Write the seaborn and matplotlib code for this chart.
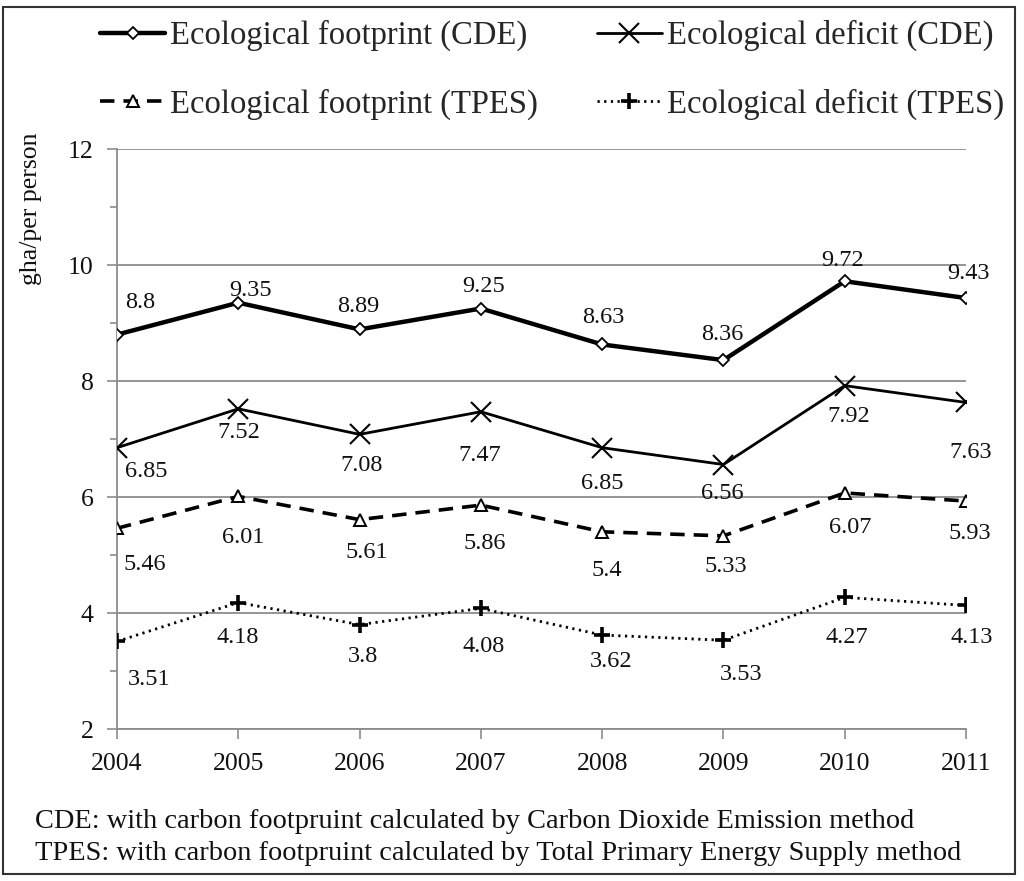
import matplotlib
matplotlib.use("Agg")
import matplotlib.pyplot as plt
import seaborn as sns
import pandas as pd
from matplotlib.patches import Rectangle
from matplotlib.ticker import MultipleLocator

years = ["2004", "2005", "2006", "2007", "2008", "2009", "2010", "2011"]
ef_cde = [8.8, 9.35, 8.89, 9.25, 8.63, 8.36, 9.72, 9.43]
ed_cde = [6.85, 7.52, 7.08, 7.47, 6.85, 6.56, 7.92, 7.63]
ef_tpes = [5.46, 6.01, 5.61, 5.86, 5.4, 5.33, 6.07, 5.93]
ed_tpes = [3.51, 4.18, 3.8, 4.08, 3.62, 3.53, 4.27, 4.13]
series_names = ["Ecological footprint (CDE)", "Ecological deficit (CDE)",
                "Ecological footprint (TPES)", "Ecological deficit (TPES)"]

sns.set_theme(style="white")
plt.rcParams["font.family"] = ["Liberation Serif", "DejaVu Serif"]

fig = plt.figure(figsize=(10.24, 8.81), dpi=100)
ax = fig.add_axes([117/1024, 1-729/881, (966-117)/1024, (729-149)/881])

xs = list(range(len(years)))
all_series = [ef_cde, ed_cde, ef_tpes, ed_tpes]
styles = [
    dict(color="black", lw=3.2, ls="-", marker="D", ms=6, mfc="white", mec="black", mew=1.3),
    dict(color="black", lw=2.0, ls="-", marker="x", ms=14, mfc="black", mec="black", mew=1.5),
    dict(color="black", lw=2.6, ls=(0, (4, 2.5)), marker="^", ms=8, mfc="white", mec="black", mew=1.4),
    dict(color="black", lw=2.0, ls=(0, (0.8, 1.6)), marker="+", ms=12, mfc="black", mec="black", mew=2.6),
]

# label offsets in pixels (dx, dy up) from point to visible text centre
offsets = [
    [(23, 35), (12, 15), (-1, 26), (3, 25), (1, 30), (-1, 29), (-2, 24), (2, 28)],
    [(29, -21), (1, -21), (2, -28), (-1, -41), (0, -33), (-1, -26), (4, -28), (5, -47)],
    [(28, -33), (5, -38), (7, -30), (4, -35), (5, -36), (2, -28), (6, -32), (4, -29)],
    [(32, -35), (-1, -32), (3, -29), (3, -35), (9, -23), (18, -31), (2, -37), (6, -29)],
]
half_digit = 8.5

for vals, name, st in zip(all_series, series_names, styles):
    df = pd.DataFrame({"x": xs, "y": vals})
    sns.lineplot(data=df, x="x", y="y", ax=ax, label=name,
                 color=st["color"], linewidth=st["lw"], linestyle=st["ls"],
                 marker=st["marker"], markersize=st["ms"], markerfacecolor=st["mfc"],
                 markeredgecolor=st["mec"], markeredgewidth=st["mew"], zorder=3)

for vals, offs in zip(all_series, offsets):
    for x, v, (dx, dy) in zip(xs, vals, offs):
        ax.annotate(f"{v:g}", (x, v), xytext=(dx, dy - half_digit), textcoords="offset pixels",
                    ha="center", va="baseline", fontsize=17.5, color="#111111", zorder=4)

ax.set_xlim(0, len(years) - 1)
ax.set_ylim(2, 12)
ax.set_xticks(xs)
ax.set_xticklabels(years)
ax.yaxis.set_major_locator(MultipleLocator(2))
ax.yaxis.set_minor_locator(MultipleLocator(1))
ax.grid(axis="y", which="major", color="#8c8c8c", lw=1.3, zorder=0)
ax.grid(axis="x", visible=False)
ax.set_axisbelow(True)
for s in ["top", "right"]:
    ax.spines[s].set_visible(False)
for s in ["left", "bottom"]:
    ax.spines[s].set_color("#8c8c8c")
    ax.spines[s].set_linewidth(1.3)
ax.tick_params(axis="both", which="major", direction="out", length=7, width=1.2,
               color="#8c8c8c", labelsize=18.5, labelcolor="#111111")
ax.tick_params(axis="y", which="minor", direction="out", length=5, width=1.2,
               color="#8c8c8c", left=True)
ax.tick_params(axis="x", which="major", pad=10, bottom=True)
ax.tick_params(axis="y", which="major", pad=10, left=True)
ax.set_xlabel("")
ax.set_ylabel("gha/per person", fontsize=18.5, color="#111111")
ax.yaxis.set_label_coords(-0.088, 0.897)

handles, labels = ax.get_legend_handles_labels()
order = [0, 2, 1, 3]
leg = ax.legend([handles[i] for i in order], [labels[i] for i in order],
                loc="upper left", bbox_to_anchor=(100/1024, 1-20/881),
                bbox_transform=fig.transFigure, borderaxespad=0, borderpad=0,
                ncol=2, frameon=False, fontsize=23.5, handlelength=2.0,
                columnspacing=1.8, handletextpad=0.15, labelspacing=1.15)

fig.text(35/1024, 1-821/881, "CDE: with carbon footpruint calculated by Carbon Dioxide Emission method",
         fontsize=20.4, va="center", ha="left", color="#111111")
fig.text(35/1024, 1-854/881, "TPES: with carbon footpruint calculated by Total Primary Energy Supply method",
         fontsize=20.4, va="center", ha="left", color="#111111")

fig.patches.append(Rectangle((3/1024, 1-874/881), 1012/1024, 867/881, transform=fig.transFigure,
                             fill=False, edgecolor="#333333", lw=1.5))

fig.savefig("out.png", dpi=100)
